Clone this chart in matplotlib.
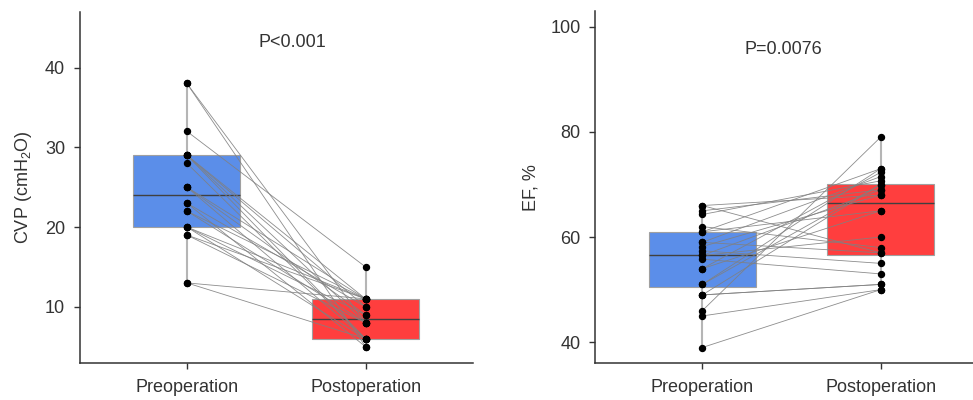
import numpy as np
import matplotlib
matplotlib.use("Agg")
import matplotlib.pyplot as plt

plt.rcParams['font.family'] = ['Liberation Sans', 'DejaVu Sans']
plt.rcParams['mathtext.fontset'] = 'custom'
plt.rcParams['mathtext.rm'] = 'Liberation Sans'
plt.rcParams['mathtext.default'] = 'regular'

groups = ['Preoperation', 'Postoperation']

# paired values, one entry per patient
cvp_pre = [38, 38, 32, 29, 29, 29, 29, 28, 25, 25, 25, 23, 23, 22, 22, 20, 20, 20, 19, 19, 13, 13]
cvp_post = [5, 8, 15, 11, 6, 10, 8, 6, 9, 11, 6, 10, 5, 8, 11, 9, 6, 11, 11, 8, 11, 6]

ef_pre = [66, 66, 65, 64.3, 62, 61, 61, 59, 59, 58.2, 57.4, 56.5, 56.5,
          55.8, 54, 54, 51, 51, 49, 49, 49, 46, 45, 39]
ef_post = [68, 57, 69, 70.7, 58, 73, 65, 71.5, 57, 68, 55, 69, 60,
           53, 72.3, 65, 73, 70, 70, 51, 51, 79, 50, 50]

cvp_p = 'P<0.001'
ef_p = 'P=0.0076'

BLUE = '#5B8EE9'
RED = '#FF3E3E'
DARK = '#333333'


def paired_box(ax, pre, post, ylim, yticks, ylabel, ptext, pxy):
    bp = ax.boxplot([pre, post], positions=[0, 1], widths=0.6, patch_artist=True,
                    showcaps=False, showfliers=False, whis=(0, 100))
    for patch, c in zip(bp['boxes'], [BLUE, RED]):
        patch.set_facecolor(c)
        patch.set_edgecolor('#a0a0a0')
        patch.set_linewidth(0.8)
        patch.set_zorder(1)
    for m in bp['medians']:
        m.set_color('#404040')
        m.set_linewidth(1.0)
        m.set_zorder(1.5)
    for w in bp['whiskers']:
        w.set_color('#b5b5b5')
        w.set_linewidth(1.5)
        w.set_zorder(0.5)

    # lines joining each patient's two measurements
    for a, b in zip(pre, post):
        ax.plot([0, 1], [a, b], color='#808080', lw=0.6, alpha=0.9, zorder=2)
    ax.plot(np.zeros(len(pre)), pre, 'o', color='black', ms=4.3, zorder=3)
    ax.plot(np.ones(len(post)), post, 'o', color='black', ms=4.3, zorder=3)

    ax.set_xlim(-0.6, 1.6)
    ax.set_ylim(*ylim)
    ax.set_xticks([0, 1])
    ax.set_xticklabels(groups)
    ax.set_yticks(yticks)
    ax.tick_params(axis='both', labelsize=13, colors=DARK, length=4.5, width=1, pad=6)
    ax.tick_params(axis='x', pad=7)
    ax.set_ylabel(ylabel, fontsize=13, color=DARK, labelpad=8)
    for s in ['top', 'right']:
        ax.spines[s].set_visible(False)
    for s in ['left', 'bottom']:
        ax.spines[s].set_color(DARK)
        ax.spines[s].set_linewidth(1.1)
    ax.text(pxy[0], pxy[1], ptext, fontsize=13, color=DARK, ha='center', va='center')


fig = plt.figure(figsize=(9.73, 4.0), dpi=100)
ax1 = fig.add_axes([0.0819, 0.0933, 0.4040, 0.8775])
ax2 = fig.add_axes([0.6118, 0.0918, 0.4032, 0.8807])

paired_box(ax1, cvp_pre, cvp_post, (3, 47), [10, 20, 30, 40], 'CVP (cmH$_2$O)', cvp_p, (0.59, 43.1))
paired_box(ax2, ef_pre, ef_post, (36, 103), [40, 60, 80, 100], 'EF, %', ef_p, (0.455, 95.6))

fig.savefig('out.png', dpi=100)
